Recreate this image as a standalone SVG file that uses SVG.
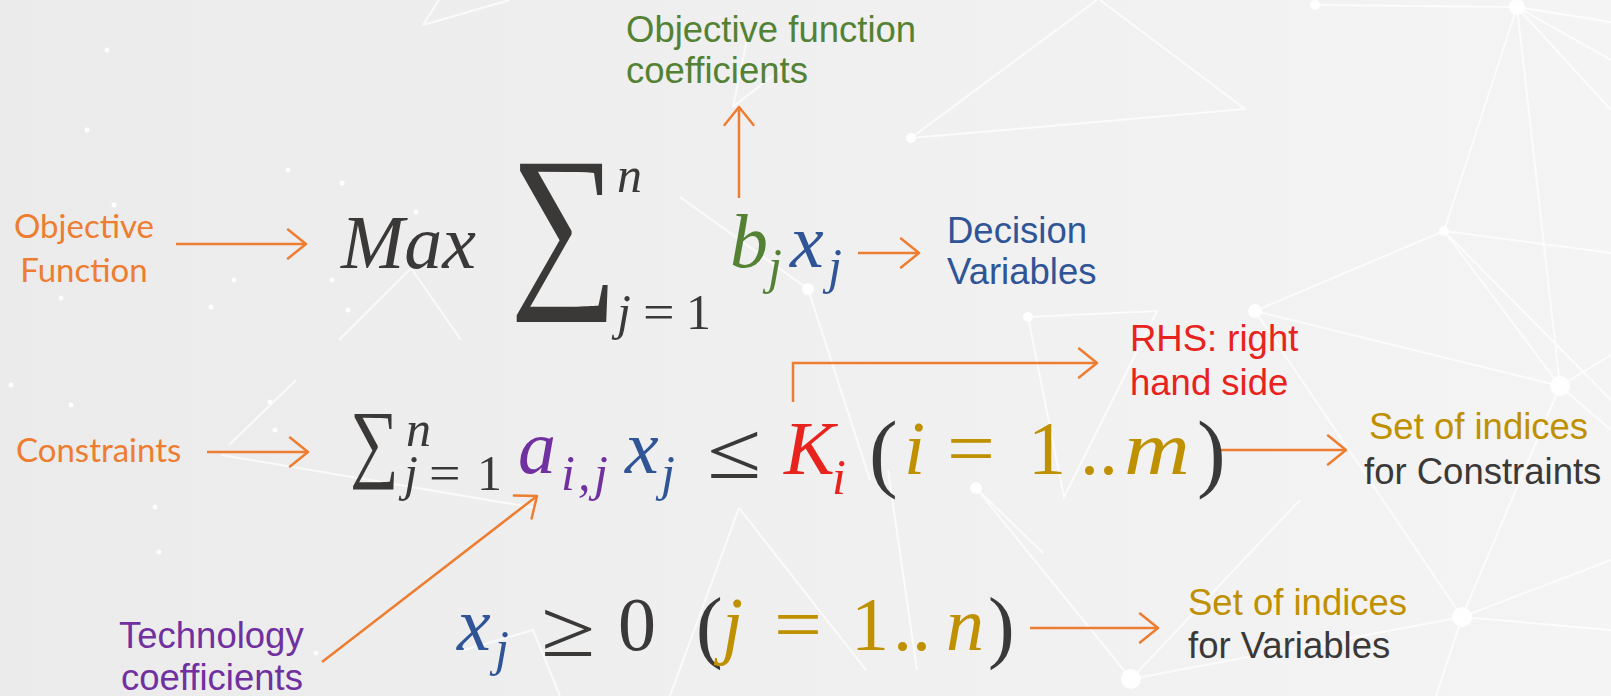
<svg xmlns="http://www.w3.org/2000/svg" width="1611" height="696" viewBox="0 0 1611 696">
<defs>
<linearGradient id="bg" x1="0" y1="0" x2="1" y2="0">
<stop offset="0" stop-color="#ebebeb"/>
<stop offset="1" stop-color="#f4f4f4"/>
</linearGradient>
<marker id="ah" markerUnits="userSpaceOnUse" viewBox="0 0 22 32" markerWidth="22" markerHeight="32" refX="19.5" refY="16" orient="auto" overflow="visible">
<path d="M1.5,1.5 L19.5,16 L1.5,30.5" fill="none" stroke="#ED7D31" stroke-width="2.5" stroke-linecap="round" stroke-linejoin="round"/>
</marker>
</defs>
<style>
.net{stroke:#ffffff;stroke-width:2;fill:none;opacity:0.7}
.dot{fill:#ffffff;opacity:0.9}
.conn{fill:none;stroke:#ED7D31;stroke-width:2.5;marker-end:url(#ah)}
.lbl{font-family:"Lato","Open Sans",sans-serif;font-size:33px;fill:#ED7D31}
.sans{font-family:"Liberation Sans",Arial,sans-serif;font-size:36.5px}
.m{font-family:"Liberation Serif","Times New Roman",serif;font-size:76px;font-style:italic}
.up{font-style:normal}
.sub{font-size:50px}
.par{font-size:86px}
.dark{fill:#3B3838}
.green{fill:#548235}
.blue{fill:#2F5597}
.purple{fill:#7030A0}
.red{fill:#E8231E}
.gold{fill:#BF9000}
</style>
<rect width="1611" height="696" fill="url(#bg)"/>
<g id="background">
<path class="net" d="M911,138 L1097,0 M1100,0 L1245,109 L911,138 M1315,5 L1517,7 L1611,22 M1517,7 L1611,60 M1517,7 L1611,110 M1517,7 L1444,231 M1517,7 L1560,386 M1444,231 L1255,311 M1444,231 L1560,386 M1444,231 L1611,253 M1444,231 L1611,400 M1255,311 L1560,386 M1255,311 L1462,617 M1560,386 L1611,355 M1560,386 L1462,617 M1560,386 L1611,430 M1462,617 L1611,630 M1462,617 L1131,679 M1462,617 L1436,696 M1462,617 L1611,560 M1028,317 L1157,311 L1064,497 Z M976,488 L1131,679 M976,488 L1043,553 M1131,679 L1300,500 M808,289 L680,197 M808,289 L870,480 M423,25 L510,0 M423,25 L439,0 M733,107 L748,35 M733,107 L790,62 M339,340 L411,268 L461,340 M229,445 L296,380 M221,455 L536,508 M739,508 L670,696 M739,508 L866,670 M464,650 L533,630 L560,696 M888,470 L917,670"/>
<circle class="dot" cx="911" cy="138" r="5"/>
<circle class="dot" cx="1315" cy="5" r="5"/>
<circle class="dot" cx="1517" cy="7" r="8"/>
<circle class="dot" cx="1444" cy="231" r="5"/>
<circle class="dot" cx="1255" cy="311" r="7"/>
<circle class="dot" cx="1560" cy="386" r="10"/>
<circle class="dot" cx="1462" cy="617" r="10"/>
<circle class="dot" cx="1131" cy="679" r="10"/>
<circle class="dot" cx="976" cy="488" r="6"/>
<circle class="dot" cx="1028" cy="317" r="5"/>
<circle class="dot" cx="808" cy="289" r="6"/>
<circle class="dot" cx="107" cy="50" r="2.5"/>
<circle class="dot" cx="87" cy="130" r="2.5"/>
<circle class="dot" cx="288" cy="170" r="2.5"/>
<circle class="dot" cx="342" cy="183" r="2.5"/>
<circle class="dot" cx="114" cy="205" r="2.5"/>
<circle class="dot" cx="416" cy="212" r="2.5"/>
<circle class="dot" cx="234" cy="280" r="2.5"/>
<circle class="dot" cx="61" cy="298" r="2.5"/>
<circle class="dot" cx="332" cy="280" r="2.5"/>
<circle class="dot" cx="211" cy="307" r="2.5"/>
<circle class="dot" cx="348" cy="310" r="2.5"/>
<circle class="dot" cx="11" cy="385" r="2.5"/>
<circle class="dot" cx="71" cy="405" r="2.5"/>
<circle class="dot" cx="270" cy="402" r="2.5"/>
<circle class="dot" cx="275" cy="430" r="2.5"/>
<circle class="dot" cx="155" cy="507" r="2.5"/>
<circle class="dot" cx="159" cy="552" r="2.5"/>
<circle class="dot" cx="316" cy="653" r="2.5"/>
</g>
<g id="connectors">
<path class="conn" d="M176,244 H306"/>
<path class="conn" d="M739,198 V107"/>
<path class="conn" d="M858,253 H919"/>
<path class="conn" d="M207,452 H308"/>
<path class="conn" d="M793,402 V363 H1097"/>
<path class="conn" d="M1219,450 H1346"/>
<path class="conn" d="M1030,628 H1158"/>
<path class="conn" d="M322,662 L537,496"/>
</g>
<g id="objective-label"><text class="lbl" text-anchor="middle" x="84" y="238">Objective</text><text class="lbl" text-anchor="middle" x="84" y="282">Function</text></g>
<g id="constraints-label"><text class="lbl" x="16" y="462">Constraints</text></g>
<g id="technology-label"><text class="sans purple" x="119" y="648">Technology</text><text class="sans purple" x="121" y="690">coefficients</text></g>
<g id="objcoef-label"><text class="sans green" x="626" y="42">Objective function</text><text class="sans green" x="626" y="83">coefficients</text></g>
<g id="decision-label"><text class="sans blue" x="947" y="243">Decision</text><text class="sans blue" x="947" y="284">Variables</text></g>
<g id="rhs-label"><text class="sans red" x="1130" y="351">RHS: right</text><text class="sans red" x="1130" y="395">hand side</text></g>
<g id="setc-label"><text class="sans gold" x="1369" y="439">Set of indices</text><text class="sans dark" x="1364" y="484">for Constraints</text></g>
<g id="setv-label"><text class="sans gold" x="1188" y="615">Set of indices</text><text class="sans dark" x="1188" y="658">for Variables</text></g>
<g id="objective-formula">
<text class="m dark" x="341" y="268">Max</text>
<text class="m up dark" x="0" y="0" transform="translate(510,283) scale(2.0,2.4)">∑</text>
<text class="m sub dark" x="617" y="192">n</text>
<text class="m sub dark" x="617" y="329">j</text>
<text class="m sub up dark" x="0" y="0" transform="translate(643,329) scale(1.12,1)">=</text>
<text class="m sub up dark" x="686" y="329">1</text>
<text class="m green" x="730" y="267">b</text>
<text class="m sub green" x="768" y="283">j</text>
<text class="m blue" x="790" y="267">x</text>
<text class="m sub blue" x="828" y="283">j</text>
</g>
<g id="constraint-formula">
<text class="m up dark" x="0" y="0" transform="translate(350,471) scale(0.9,1.15)">∑</text>
<text class="m sub dark" x="406" y="446">n</text>
<text class="m sub dark" x="404" y="490">j</text>
<text class="m sub up dark" x="0" y="0" transform="translate(429,490) scale(1.12,1)">=</text>
<text class="m sub up dark" x="477" y="490">1</text>
<text class="m purple" x="518" y="473">a</text>
<text class="m sub purple" x="561" y="490">i</text>
<text class="m sub purple" x="578" y="490">,</text>
<text class="m sub purple" x="594" y="490">j</text>
<text class="m blue" x="625" y="473">x</text>
<text class="m sub blue" x="661" y="490">j</text>
<text class="m up dark" x="0" y="0" transform="translate(707,478) scale(1.3,1.06)">≤</text>
<text class="m red" x="784" y="474">K</text>
<text class="m sub red" x="832" y="494">i</text>
<text class="m up par dark" x="869" y="481">(</text>
<text class="m gold" x="904" y="474">i</text>
<text class="m up gold" x="0" y="0" transform="translate(947,474) scale(1.12,1)">=</text>
<text class="m up gold" x="1028" y="474">1</text>
<text class="m up gold" x="1080" y="474">..</text>
<text class="m gold" x="0" y="0" transform="translate(1124,474) scale(1.2,1)">m</text>
<text class="m up par dark" x="1197" y="481">)</text>
</g>
<g id="nonneg-formula">
<text class="m blue" x="457" y="650">x</text>
<text class="m sub blue" x="495" y="665">j</text>
<text class="m up dark" x="0" y="0" transform="translate(541,656) scale(1.3,1.06)">≥</text>
<text class="m up dark" x="618" y="650">0</text>
<text class="m up dark" x="696" y="653" style="font-size:80px">(</text>
<text class="m gold" x="722" y="650">j</text>
<text class="m up gold" x="0" y="0" transform="translate(774,650) scale(1.12,1)">=</text>
<text class="m up gold" x="851" y="650">1</text>
<text class="m up gold" x="893" y="650">..</text>
<text class="m gold" x="946" y="650">n</text>
<text class="m up dark" x="988" y="653" style="font-size:80px">)</text>
</g>
</svg>
